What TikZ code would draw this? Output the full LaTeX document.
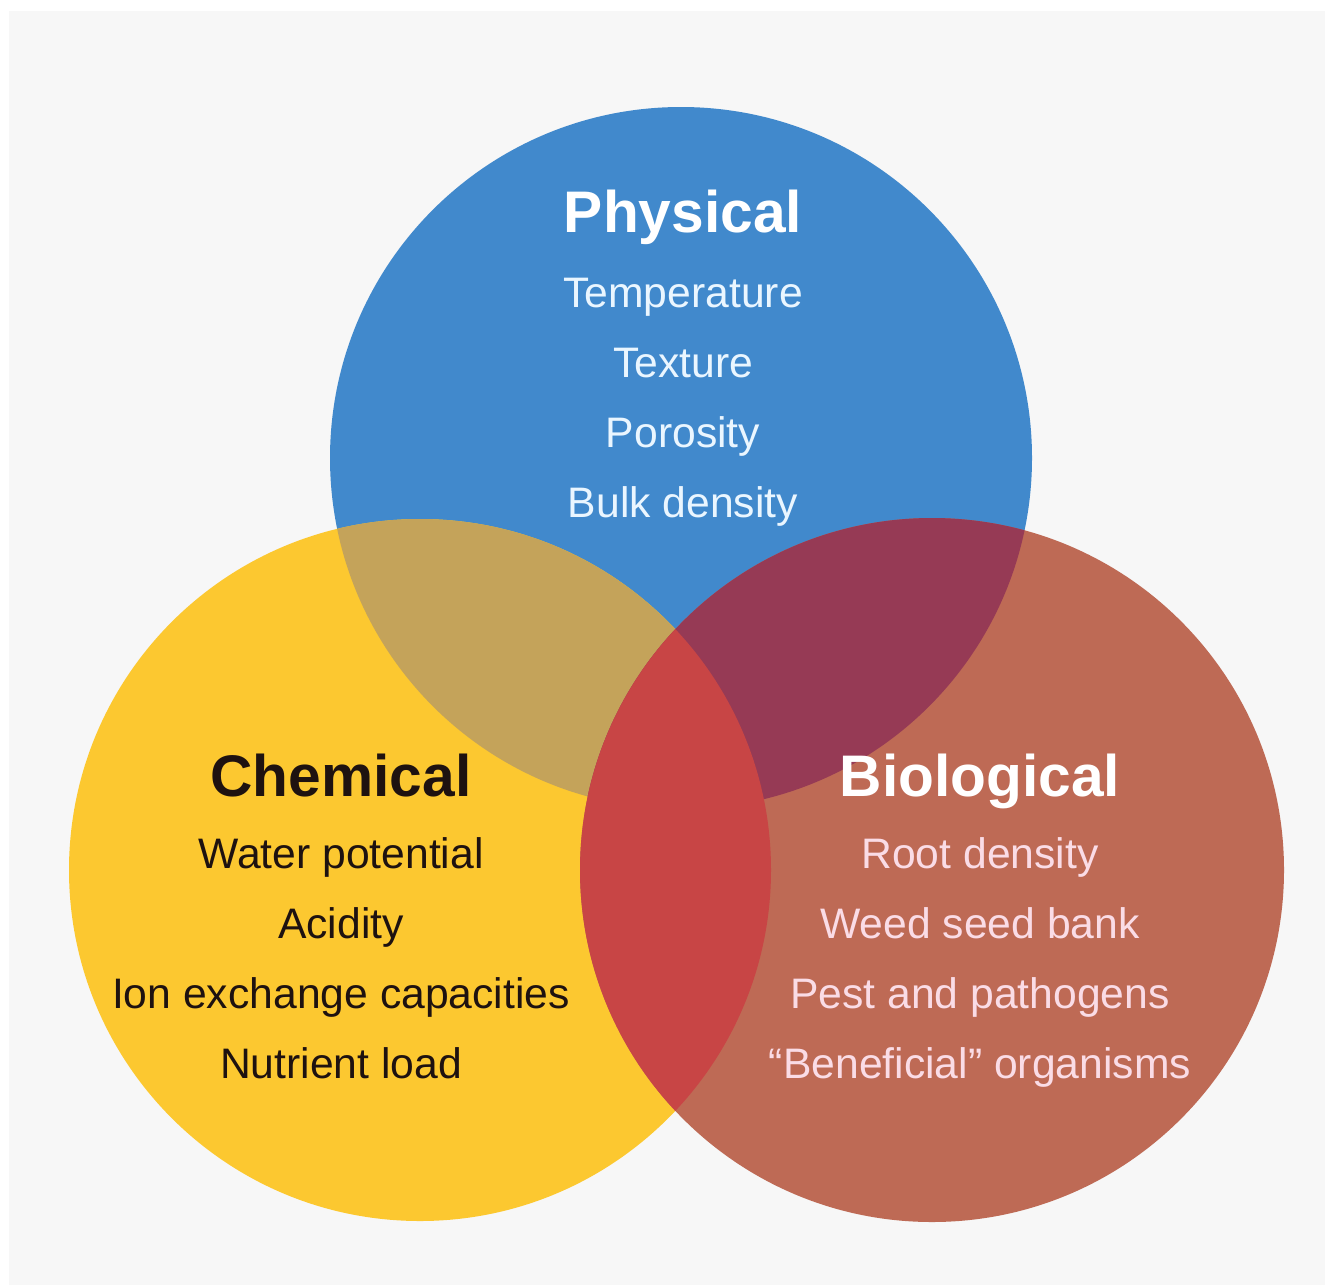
\documentclass[tikz,border=0pt]{standalone}
\usepackage{fontspec}
\setmainfont{Liberation Sans}
\definecolor{physblue}{HTML}{4189CC}
\definecolor{chemyellow}{HTML}{FCC830}
\definecolor{biored}{HTML}{BE6A55}
\definecolor{pctan}{HTML}{C4A35A}
\definecolor{pbcrimson}{HTML}{963A55}
\definecolor{cbred}{HTML}{C84545}
\definecolor{bgray}{HTML}{F7F7F7}
\definecolor{physitem}{HTML}{EAF6FF}
\definecolor{bioitem}{HTML}{FADCE6}
\definecolor{chemtext}{HTML}{1E1210}
\begin{document}
\begin{tikzpicture}[x=0.75pt,y=0.75pt,yscale=-1,xscale=1,
    head/.style={anchor=base,font=\fontsize{44}{50}\selectfont\bfseries},
    entry/.style={anchor=base,font=\fontsize{32}{38}\selectfont}]
  \useasboundingbox (0,0) rectangle (1330,1285);
  \fill[white] (0,0) rectangle (1330,1285);
  \fill[bgray] (9,11) rectangle (1325,1285);

  \coordinate (cphys) at (681,458);
  \coordinate (cchem) at (420,870);
  \coordinate (cbio) at (932,870);

  % the three sets and their overlaps
  \fill[physblue] (cphys) circle [radius=351];
  \fill[chemyellow] (cchem) circle [radius=351];
  \begin{scope}
    \clip (cchem) circle [radius=351];
    \fill[pctan] (cphys) circle [radius=351];
  \end{scope}
  \fill[biored] (cbio) circle [radius=352];
  \begin{scope}
    \clip (cbio) circle [radius=352];
    \fill[pbcrimson] (cphys) circle [radius=351];
    \fill[cbred] (cchem) circle [radius=351];
  \end{scope}

  \node[head,white] (phys) at (683,232) {Physical};
  \node[entry,physitem] (phys1) at (683,307) {Temperature};
  \node[entry,physitem] (phys2) at (683,377) {Texture};
  \node[entry,physitem] (phys3) at (683,447) {Porosity};
  \node[entry,physitem] (phys4) at (683,517) {Bulk density};

  \node[head,chemtext] (chem) at (341,796) {Chemical};
  \node[entry,chemtext] (chem1) at (341,868) {Water potential};
  \node[entry,chemtext] (chem2) at (341,938) {Acidity};
  \node[entry,chemtext] (chem3) at (341,1008) {Ion exchange capacities};
  \node[entry,chemtext] (chem4) at (341,1078) {Nutrient load};

  \node[head,white] (bio) at (980,796) {Biological};
  \node[entry,bioitem] (bio1) at (980,868) {Root density};
  \node[entry,bioitem] (bio2) at (980,938) {Weed seed bank};
  \node[entry,bioitem] (bio3) at (980,1008) {Pest and pathogens};
  \node[entry,bioitem] (bio4) at (980,1078) {``Beneficial'' organisms};
\end{tikzpicture}
\end{document}
